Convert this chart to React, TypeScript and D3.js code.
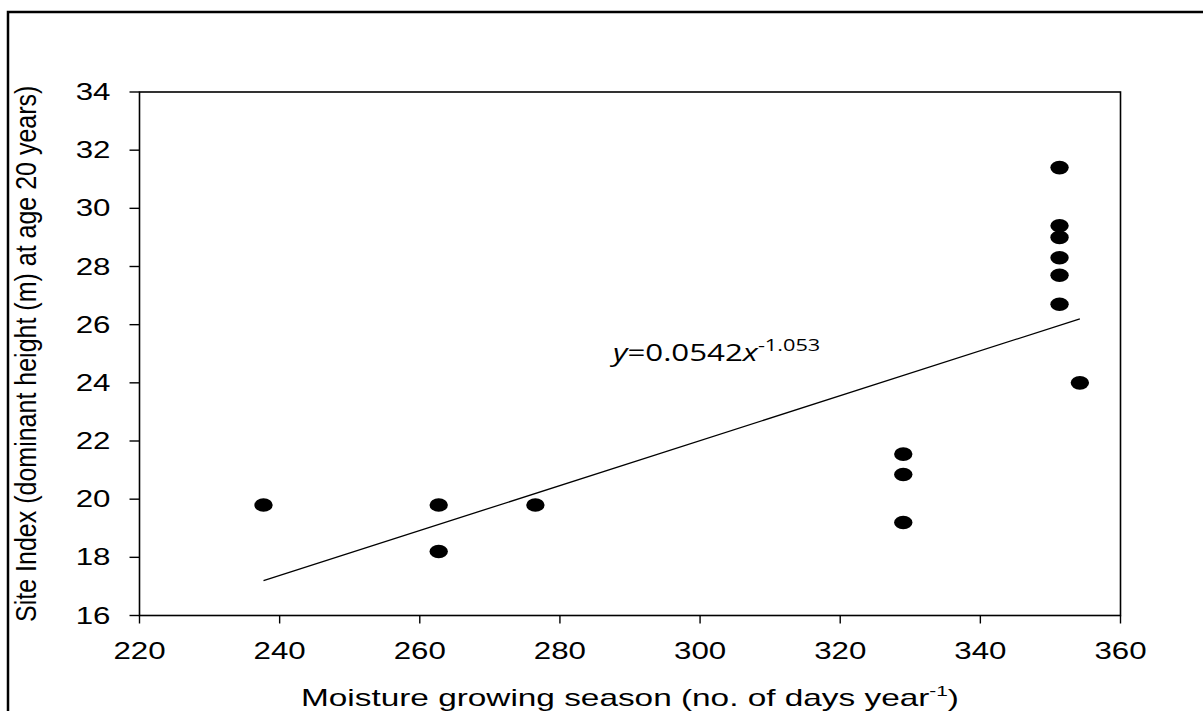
import React, { useEffect, useRef } from 'react';
import * as d3 from 'd3';

// observed sites: growing season length vs site index
const seasonDays = [237.7, 262.7, 262.7, 276.5, 329, 329, 329, 351.3, 351.3, 351.3, 351.3, 351.3, 351.3, 354.2];
const siteIndex = [19.8, 19.8, 18.2, 19.8, 21.55, 20.85, 19.2, 31.4, 29.4, 29.0, 28.3, 27.7, 26.7, 24.0];

// fitted line endpoints
const fitX = [237.7, 354.2];
const fitY = [17.2, 26.2];

const xTicks = [220, 240, 260, 280, 300, 320, 340, 360];
const yTicks = [16, 18, 20, 22, 24, 26, 28, 30, 32, 34];

const W = 1203;
const H = 711;
const SX = 1.36; // the source figure is stretched sideways

const App: React.FC = () => {
  const svgRef = useRef<SVGSVGElement>(null);

  useEffect(() => {
    if (!svgRef.current) return;
    const svg = d3.select(svgRef.current);
    svg.selectAll('*').remove();

    const x = d3.scaleLinear().domain([220, 360]).range([139.5, 1120.5]);
    const y = d3.scaleLinear().domain([16, 34]).range([615.5, 92]);
    const font = '"Liberation Sans", Arial, sans-serif';

    svg.append('rect').attr('width', W).attr('height', H).attr('fill', '#fff');

    // outer frame (right and bottom edges fall outside the picture)
    svg.append('rect')
      .attr('x', 8).attr('y', 12)
      .attr('width', W + 20).attr('height', H + 20)
      .attr('fill', 'none').attr('stroke', '#000').attr('stroke-width', 2.5);

    // plot box
    svg.append('rect')
      .attr('x', x(220)).attr('y', y(34))
      .attr('width', x(360) - x(220)).attr('height', y(16) - y(34))
      .attr('fill', 'none').attr('stroke', '#000').attr('stroke-width', 1.6);

    // y ticks + labels
    yTicks.forEach(t => {
      svg.append('line')
        .attr('x1', x(220) - 10).attr('x2', x(220))
        .attr('y1', y(t)).attr('y2', y(t))
        .attr('stroke', '#000').attr('stroke-width', 1.4);
      svg.append('text')
        .attr('transform', `translate(${x(220) - 29},${y(t) + 8}) scale(${SX},1)`)
        .attr('text-anchor', 'end')
        .style('font-family', font).style('font-size', '23px')
        .text(t);
    });

    // x ticks + labels
    xTicks.forEach(t => {
      svg.append('line')
        .attr('x1', x(t)).attr('x2', x(t))
        .attr('y1', y(16)).attr('y2', y(16) + 8)
        .attr('stroke', '#000').attr('stroke-width', 1.4);
      svg.append('text')
        .attr('transform', `translate(${x(t)},${y(16) + 43}) scale(${SX},1)`)
        .attr('text-anchor', 'middle')
        .style('font-family', font).style('font-size', '23px')
        .text(t);
    });

    // fitted line
    svg.append('line')
      .attr('x1', x(fitX[0])).attr('y1', y(fitY[0]))
      .attr('x2', x(fitX[1])).attr('y2', y(fitY[1]))
      .attr('stroke', '#000').attr('stroke-width', 1.3);

    // points
    svg.selectAll('ellipse.pt')
      .data(seasonDays.map((d, i) => [d, siteIndex[i]]))
      .enter()
      .append('ellipse')
      .attr('class', 'pt')
      .attr('cx', d => x(d[0]))
      .attr('cy', d => y(d[1]))
      .attr('rx', 9.2)
      .attr('ry', 6.8)
      .attr('fill', '#000');

    // equation
    const eq = svg.append('text')
      .attr('transform', `translate(613,361) scale(${SX},1)`)
      .style('font-family', '"Open Sans", sans-serif').style('font-size', '23px');
    eq.append('tspan').style('font-style', 'italic').text('y');
    eq.append('tspan').text('=0.0542');
    eq.append('tspan').style('font-style', 'italic').text('x');
    eq.append('tspan').attr('dy', -10).style('font-size', '16px').text('-1.053');

    // x title
    const xt = svg.append('text')
      .attr('transform', `translate(${(x(220) + x(360)) / 2},706) scale(1.39,1)`)
      .attr('text-anchor', 'middle')
      .style('font-family', font).style('font-size', '24px');
    xt.append('tspan').text('Moisture growing season (no. of days year');
    xt.append('tspan').attr('dy', -10).style('font-size', '15px').text('-1');
    xt.append('tspan').attr('dy', 10).text(')');

    // y title
    svg.append('text')
      .attr('transform', `translate(36,${(y(16) + y(34)) / 2}) scale(1.15,1) rotate(-90)`)
      .attr('text-anchor', 'middle')
      .style('font-family', font).style('font-size', '25px')
      .text('Site Index (dominant height (m) at age 20 years)');
  }, []);

  return (
    <svg
      ref={svgRef}
      width={W}
      height={H}
      style={{ position: 'absolute', left: 0, top: 0, display: 'block' }}
    />
  );
};

export default App;
